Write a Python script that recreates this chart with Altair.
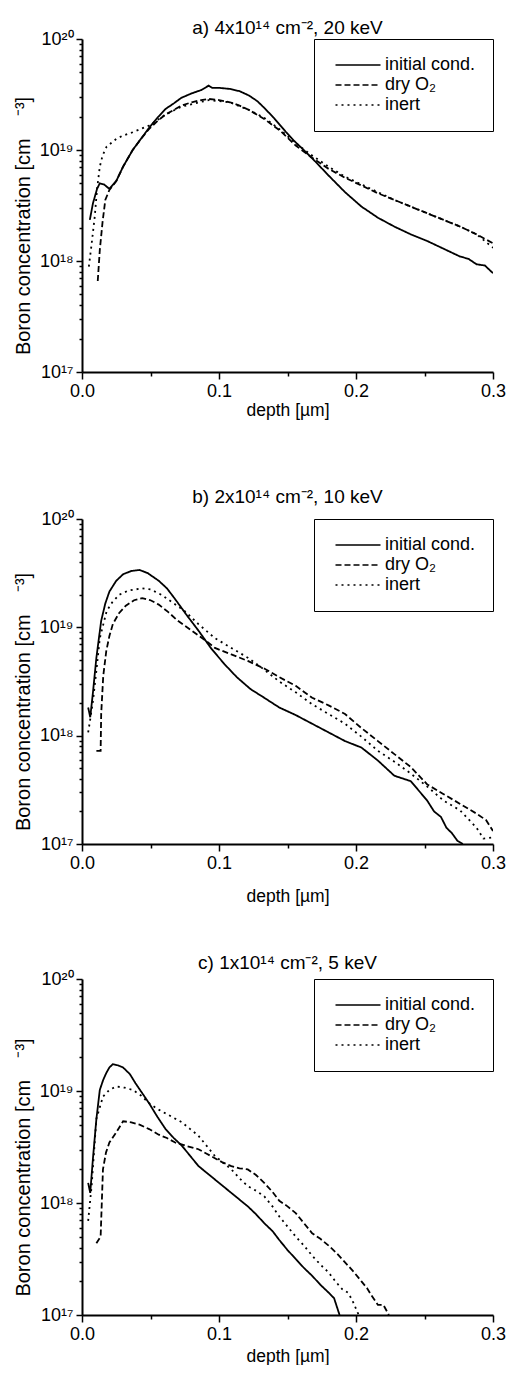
import altair as alt
import pandas as pd

FONT = "Liberation Sans"
SERIES = ["initial cond.", "dry O\u2082", "inert"]

# ---------------- panel a: 4x10^14 cm^-2, 20 keV ----------------
a_init_depth = [0.0057, 0.008, 0.011, 0.013, 0.016, 0.020, 0.025, 0.030, 0.037, 0.043, 0.049, 0.055,
                0.061, 0.067, 0.0725, 0.080, 0.087, 0.0925, 0.095, 0.100, 0.108, 0.115, 0.122, 0.128,
                0.133, 0.140, 0.149, 0.155, 0.161, 0.170, 0.180, 0.192, 0.204, 0.216, 0.228, 0.240,
                0.252, 0.264, 0.276, 0.282, 0.288, 0.294, 0.300]
a_init_log = [18.37, 18.52, 18.65, 18.70, 18.69, 18.65, 18.72, 18.85, 19.00, 19.10, 19.20, 19.29,
              19.37, 19.42, 19.47, 19.51, 19.54, 19.58, 19.56, 19.56, 19.55, 19.53, 19.49, 19.44,
              19.38, 19.29, 19.16, 19.08, 19.01, 18.90, 18.77, 18.62, 18.49, 18.39, 18.31, 18.24,
              18.18, 18.11, 18.04, 18.02, 17.97, 17.96, 17.89]
a_dry_depth = [0.0115, 0.013, 0.015, 0.017, 0.020, 0.025, 0.030, 0.037, 0.043, 0.049, 0.055, 0.061,
               0.067, 0.0725, 0.080, 0.087, 0.0925, 0.100, 0.108, 0.115, 0.122, 0.133, 0.145, 0.156,
               0.168, 0.180, 0.192, 0.204, 0.216, 0.228, 0.240, 0.252, 0.264, 0.276, 0.288, 0.300]
a_dry_log = [17.82, 18.10, 18.35, 18.55, 18.64, 18.72, 18.85, 19.00, 19.10, 19.19, 19.26, 19.32,
             19.36, 19.40, 19.43, 19.45, 19.46, 19.45, 19.43, 19.40, 19.36, 19.28, 19.17, 19.04,
             18.93, 18.83, 18.75, 18.68, 18.61, 18.55, 18.49, 18.43, 18.37, 18.31, 18.24, 18.16]
a_inert_depth = [0.005, 0.007, 0.0093, 0.011, 0.013, 0.015, 0.018, 0.022, 0.025, 0.030, 0.037, 0.043,
                 0.049, 0.055, 0.061, 0.0725, 0.0925, 0.108, 0.122, 0.133, 0.145, 0.156, 0.168, 0.180,
                 0.192, 0.204, 0.216, 0.228, 0.240, 0.252, 0.264, 0.276, 0.288, 0.300]
a_inert_log = [17.95, 18.15, 18.40, 18.65, 18.85, 18.95, 19.03, 19.07, 19.10, 19.13, 19.16, 19.19,
               19.22, 19.27, 19.32, 19.39, 19.45, 19.43, 19.36, 19.29, 19.18, 19.06, 18.95, 18.85,
               18.76, 18.69, 18.62, 18.55, 18.49, 18.43, 18.37, 18.31, 18.24, 18.12]

# ---------------- panel b: 2x10^14 cm^-2, 10 keV ----------------
b_init_depth = [0.0045, 0.006, 0.008, 0.0105, 0.014, 0.017, 0.020, 0.025, 0.030, 0.036, 0.042, 0.048,
                0.056, 0.062, 0.068, 0.076, 0.085, 0.094, 0.104, 0.113, 0.123, 0.133, 0.144, 0.156,
                0.168, 0.180, 0.192, 0.204, 0.216, 0.228, 0.240, 0.252, 0.257, 0.262, 0.266, 0.270,
                0.274, 0.278]
b_init_log = [18.26, 18.17, 18.40, 18.72, 19.06, 19.22, 19.33, 19.43, 19.49, 19.52, 19.53, 19.50,
              19.43, 19.36, 19.26, 19.12, 18.97, 18.81, 18.66, 18.54, 18.43, 18.35, 18.26, 18.19,
              18.11, 18.03, 17.95, 17.89, 17.77, 17.63, 17.58, 17.40, 17.30, 17.25, 17.15, 17.10,
              17.03, 17.00]
b_dry_depth = [0.0105, 0.0136, 0.0140, 0.0155, 0.0177, 0.020, 0.0225, 0.027, 0.032, 0.038, 0.044, 0.050,
               0.056, 0.063, 0.070, 0.080, 0.090, 0.097, 0.109, 0.121, 0.133, 0.144, 0.156, 0.168,
               0.180, 0.192, 0.204, 0.216, 0.228, 0.240, 0.252, 0.264, 0.276, 0.288, 0.295, 0.300]
b_dry_log = [17.86, 17.86, 18.20, 18.55, 18.78, 18.92, 19.03, 19.13, 19.20, 19.25, 19.27, 19.25,
             19.21, 19.14, 19.06, 18.97, 18.88, 18.81, 18.75, 18.69, 18.62, 18.54, 18.46, 18.35,
             18.28, 18.20, 18.07, 17.95, 17.83, 17.71, 17.55, 17.46, 17.37, 17.28, 17.22, 17.12]
b_inert_depth = [0.0045, 0.006, 0.008, 0.0105, 0.013, 0.018, 0.022, 0.027, 0.034, 0.044, 0.050, 0.058,
                 0.066, 0.075, 0.085, 0.097, 0.109, 0.121, 0.133, 0.144, 0.156, 0.168, 0.180, 0.192,
                 0.204, 0.216, 0.228, 0.240, 0.252, 0.264, 0.276, 0.288, 0.293, 0.300]
b_inert_log = [18.03, 18.15, 18.32, 18.60, 18.90, 19.15, 19.23, 19.30, 19.34, 19.36, 19.35, 19.30,
               19.23, 19.15, 19.03, 18.90, 18.81, 18.72, 18.61, 18.50, 18.40, 18.29, 18.20, 18.11,
               17.99, 17.86, 17.76, 17.65, 17.53, 17.40, 17.31, 17.15, 17.05, 17.06]

# ---------------- panel c: 1x10^14 cm^-2, 5 keV ----------------
c_init_depth = [0.0045, 0.006, 0.008, 0.0105, 0.013, 0.0155, 0.0177, 0.020, 0.0225, 0.026, 0.030, 0.035,
                0.039, 0.044, 0.049, 0.055, 0.061, 0.067, 0.073, 0.079, 0.085, 0.091, 0.097, 0.103,
                0.109, 0.115, 0.121, 0.127, 0.133, 0.139, 0.144, 0.150, 0.156, 0.162, 0.168, 0.174,
                0.180, 0.184, 0.188]
c_init_log = [18.18, 18.09, 18.40, 18.75, 19.01, 19.10, 19.16, 19.21, 19.24, 19.23, 19.21, 19.15,
              19.07, 18.98, 18.89, 18.77, 18.66, 18.58, 18.51, 18.42, 18.33, 18.27, 18.21, 18.15,
              18.09, 18.03, 17.97, 17.90, 17.82, 17.75, 17.67, 17.58, 17.50, 17.42, 17.35, 17.27,
              17.20, 17.15, 17.00]
c_dry_depth = [0.0105, 0.0136, 0.0153, 0.0175, 0.020, 0.025, 0.030, 0.036, 0.042, 0.049, 0.056, 0.062,
               0.068, 0.076, 0.085, 0.091, 0.097, 0.103, 0.109, 0.115, 0.121, 0.127, 0.133, 0.139,
               0.144, 0.150, 0.156, 0.162, 0.168, 0.174, 0.180, 0.186, 0.192, 0.198, 0.204, 0.208,
               0.211, 0.216, 0.220, 0.224]
c_dry_log = [17.64, 17.70, 18.30, 18.45, 18.54, 18.63, 18.73, 18.72, 18.70, 18.66, 18.61, 18.58,
             18.54, 18.51, 18.48, 18.44, 18.40, 18.36, 18.33, 18.31, 18.30, 18.25, 18.18, 18.10,
             18.02, 17.97, 17.91, 17.82, 17.73, 17.68, 17.62, 17.55, 17.47, 17.39, 17.30, 17.24,
             17.18, 17.09, 17.09, 17.00]
c_inert_depth = [0.0045, 0.007, 0.0105, 0.0153, 0.020, 0.025, 0.031, 0.037, 0.043, 0.049, 0.055, 0.061,
                 0.067, 0.073, 0.079, 0.085, 0.091, 0.097, 0.103, 0.109, 0.115, 0.121, 0.127, 0.133,
                 0.139, 0.144, 0.150, 0.156, 0.162, 0.168, 0.174, 0.180, 0.185, 0.190, 0.194, 0.197,
                 0.202]
c_inert_log = [17.84, 18.15, 18.75, 18.95, 19.01, 19.04, 19.03, 19.01, 18.96, 18.89, 18.84, 18.80,
               18.76, 18.72, 18.66, 18.60, 18.51, 18.42, 18.36, 18.30, 18.22, 18.15, 18.11, 18.06,
               17.97, 17.88, 17.79, 17.70, 17.62, 17.53, 17.45, 17.38, 17.30, 17.23, 17.20, 17.14,
               17.00]

TITLES = ["a) 4x10\u00b9\u2074 cm\u207b\u00b2, 20 keV",
          "b) 2x10\u00b9\u2074 cm\u207b\u00b2, 10 keV",
          "c) 1x10\u00b9\u2074 cm\u207b\u00b2, 5 keV"]
Y_TITLE = "Boron concentration [cm\u00a0\u00a0\u00a0\u00a0\u207b\u00b3]"
X_TITLE = "depth [\u00b5m]"

X_TICKS = [0.0, 0.05, 0.1, 0.15, 0.2, 0.25, 0.3]
Y_TICKS = [k * 10.0 ** e for e in (17, 18, 19) for k in range(1, 10)] + [1e20]

LOGV = "(log(datum.value)/LN10)"
Y_MAJOR = f"abs({LOGV} - round({LOGV})) < 0.001"
Y_LABEL = (f"!({Y_MAJOR}) ? '' : round({LOGV}) == 17 ? '10\u00b9\u2077' : "
           f"round({LOGV}) == 18 ? '10\u00b9\u2078' : round({LOGV}) == 19 ? '10\u00b9\u2079' : '10\u00b2\u2070'")
X_MAJOR = "abs(datum.value*10 - round(datum.value*10)) < 0.001"
X_LABEL = f"{X_MAJOR} ? format(datum.value, '.1f') : ''"

PLOT_W = 411


def panel(title, depths, logs, h, toff, xtp):
    rows = []
    for s, dd, ll in zip(SERIES, depths, logs):
        for d, l in zip(dd, ll):
            rows.append({"depth": d, "conc": 10.0 ** l, "series": s})
    df = pd.DataFrame(rows)
    x_axis = alt.Axis(values=X_TICKS, labelExpr=X_LABEL, title=X_TITLE,
                      tickSize={"condition": {"test": X_MAJOR, "value": 7}, "value": 4},
                      labelFontSize=18, titleFontSize=17.5, labelPadding=3, titlePadding=xtp,
                      grid=False, labelFlush=False, labelOverlap=False)
    y_axis = alt.Axis(values=Y_TICKS, labelExpr=Y_LABEL, title=Y_TITLE,
                      tickSize={"condition": {"test": Y_MAJOR, "value": 6}, "value": 3},
                      labelFontSize=18, titleFontSize=20, labelPadding=3, titlePadding=6,
                      titleY=h / 2 + 20,
                      grid=False, labelFlush=False, labelOverlap=False)
    legend = alt.Legend(title=None, orient="top-right", offset=0,
                        symbolType="M-5,0L5,0", symbolSize=81, symbolOffset=18,
                        symbolStrokeWidth=1.6, symbolStrokeColor="black",
                        labelOffset=18, labelFontSize=18, labelFont=FONT, labelLimit=0,
                        padding=17, rowPadding=2, strokeColor="black", fillColor="white",
                        cornerRadius=0)
    return alt.Chart(df, title=alt.TitleParams(title, offset=toff, frame="group")).mark_line(
        color="black", strokeWidth=1.8, clip=True
    ).encode(
        x=alt.X("depth:Q", scale=alt.Scale(domain=[0, 0.3], nice=False, zero=False), axis=x_axis),
        y=alt.Y("conc:Q", scale=alt.Scale(type="log", domain=[1e17, 1e20], nice=False), axis=y_axis),
        strokeDash=alt.StrokeDash("series:N",
                                  scale=alt.Scale(domain=SERIES, range=[[1, 0], [6, 3], [2, 4]]),
                                  legend=legend),
    ).properties(width=PLOT_W, height=h)


pa = panel(TITLES[0], [a_init_depth, a_dry_depth, a_inert_depth], [a_init_log, a_dry_log, a_inert_log], 333, -8, 1)
pb = panel(TITLES[1], [b_init_depth, b_dry_depth, b_inert_depth], [b_init_log, b_dry_log, b_inert_log], 325, 3, 15)
pc = panel(TITLES[2], [c_init_depth, c_dry_depth, c_inert_depth], [c_init_log, c_dry_log, c_inert_log], 336, -3, 4)

lower = alt.vconcat(pb, pc, spacing=49).resolve_scale(strokeDash="independent").resolve_legend(
    strokeDash="independent")

chart = alt.vconcat(pa, lower, spacing=69).resolve_scale(strokeDash="independent").resolve_legend(
    strokeDash="independent"
).properties(padding={"left": 5, "top": 11, "right": 0, "bottom": 0}).configure_view(stroke=None).configure_axis(
    labelFont=FONT, titleFont=FONT, labelColor="black", titleColor="black", titleFontWeight="normal",
    domainColor="black", domainWidth=2, tickColor="black", tickWidth=1.5
).configure_title(font=FONT, fontSize=19, fontWeight="normal", color="black", anchor="middle")

chart.save("out.html", embed_options={"renderer": "svg", "actions": False})
